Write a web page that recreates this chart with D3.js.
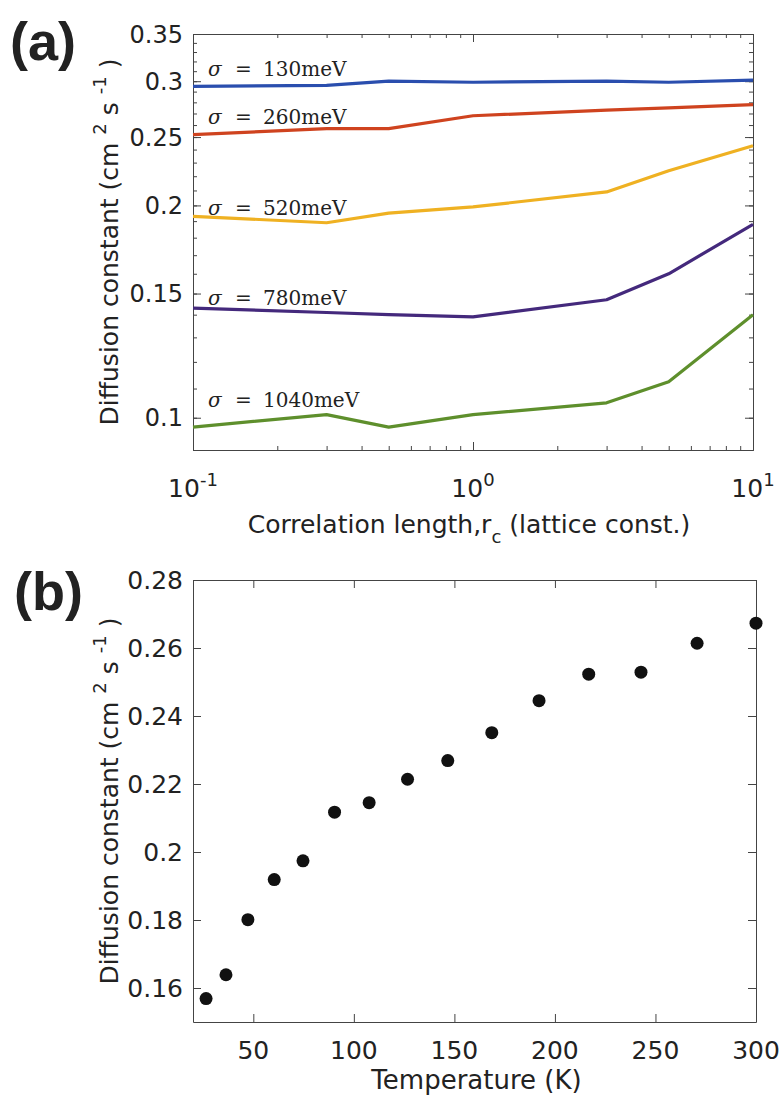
<!DOCTYPE html>
<html>
<head>
	<meta charset="utf-8">
	<title>diffusion-constant</title>
	<style type="text/css">
		body { margin: 0; background: #fff; }
		text { font-family: "DejaVu Sans", sans-serif; fill: #222; }
	</style>
</head>
<body>
<script src="https://cdn.jsdelivr.net/npm/d3@7"></script>
<script>
	// ---- data (a) ----
	var corrLen = [0.1, 0.3, 0.5, 1, 3, 5, 10];
	var sigmaNames = ["130meV", "260meV", "520meV", "780meV", "1040meV"];
	var d130  = [0.295, 0.296, 0.300, 0.299, 0.300, 0.299, 0.301];
	var d260  = [0.252, 0.257, 0.257, 0.268, 0.273, 0.275, 0.278];
	var d520  = [0.193, 0.189, 0.195, 0.199, 0.209, 0.224, 0.243];
	var d780  = [0.143, 0.141, 0.140, 0.139, 0.147, 0.160, 0.188];
	var d1040 = [0.097, 0.101, 0.097, 0.101, 0.105, 0.1125, 0.140];
	var labelAt = [0.305, 0.2605, 0.194, 0.1445, 0.1036];
	var colorsA = ["#2a4eae", "#cf431f", "#efb122", "#44297c", "#5e8f2c"];
	var yTicksA = [0.1, 0.15, 0.2, 0.25, 0.3, 0.35];
	var xExpA = [-1, 0, 1];

	// ---- data (b) ----
	var temps = [26.5, 36.4, 47.3, 60.4, 74.7, 90.4, 107.6, 126.7, 146.7, 168.6, 192.1, 216.8, 242.8, 270.7, 300];
	var diffB = [0.1569, 0.1639, 0.1801, 0.1919, 0.1974, 0.2117, 0.2145, 0.2214, 0.2269, 0.2351, 0.2445, 0.2523, 0.2529, 0.2614, 0.2673];
	var xTicksB = [50, 100, 150, 200, 250, 300];
	var yTicksB = [0.16, 0.18, 0.2, 0.22, 0.24, 0.26, 0.28];

	var W = 782, H = 1104;
	var svg = d3.select("body").append("svg").attr("width", W).attr("height", H);

	/*===== panel (a) =====*/
	var A = {l: 193, r: 753, t: 34, b: 450};
	var xA = d3.scaleLog().domain([0.1, 10]).range([A.l, A.r]);
	var yA = d3.scaleLog().domain([0.09, 0.35]).range([A.b, A.t]);

	var minorX = [];
	[0.1, 1].forEach(function(dec) { for (var k = 2; k <= 9; k++) minorX.push(dec * k); });
	var minorY = d3.range(9, 36).map(function(v) { return v / 100; });

	// box with inward ticks on all four sides
	function boxAxes(g, xs, ys, box, xMaj, xMin, yMaj, yMin) {
		var ax = function(gen, tr) {
			g.append("g").attr("transform", tr).call(gen)
				.call(function(s) {
					s.selectAll("text").remove();
					s.select(".domain").attr("stroke", "#444");
					s.selectAll("line").attr("stroke", "#444");
				});
		};
		ax(d3.axisBottom(xs).tickValues(xMaj).tickSizeInner(-8).tickSizeOuter(0), "translate(0," + box.b + ")");
		ax(d3.axisTop(xs).tickValues(xMaj).tickSizeInner(-8).tickSizeOuter(0), "translate(0," + box.t + ")");
		ax(d3.axisLeft(ys).tickValues(yMaj).tickSizeInner(-8).tickSizeOuter(0), "translate(" + box.l + ",0)");
		ax(d3.axisRight(ys).tickValues(yMaj).tickSizeInner(-8).tickSizeOuter(0), "translate(" + box.r + ",0)");
		if (xMin) {
			ax(d3.axisBottom(xs).tickValues(xMin).tickSizeInner(-4).tickSizeOuter(0), "translate(0," + box.b + ")");
			ax(d3.axisTop(xs).tickValues(xMin).tickSizeInner(-4).tickSizeOuter(0), "translate(0," + box.t + ")");
		}
		if (yMin) {
			ax(d3.axisLeft(ys).tickValues(yMin).tickSizeInner(-4).tickSizeOuter(0), "translate(" + box.l + ",0)");
			ax(d3.axisRight(ys).tickValues(yMin).tickSizeInner(-4).tickSizeOuter(0), "translate(" + box.r + ",0)");
		}
	}

	var gA = svg.append("g");
	boxAxes(gA, xA, yA, A, xExpA.map(function(e) { return Math.pow(10, e); }), minorX, yTicksA, minorY);

	// y tick labels
	gA.selectAll("text.yt").data(yTicksA).enter().append("text")
		.attr("x", A.l - 10).attr("y", function(d) { return yA(d); }).attr("dy", "0.36em")
		.attr("text-anchor", "end").attr("font-size", 24)
		.text(function(d) { return d3.format("")(d); });

	// x tick labels 10^n
	gA.selectAll("text.xt").data(xExpA).enter().append("text")
		.attr("x", function(d) { return xA(Math.pow(10, d)); }).attr("y", A.b + 47)
		.attr("text-anchor", "middle").attr("font-size", 25)
		.each(function(d) {
			var t = d3.select(this);
			t.append("tspan").text("10");
			t.append("tspan").attr("dy", -11).attr("font-size", 18).text(d);
		});

	var seriesA = [d130, d260, d520, d780, d1040];
	var line = d3.line().x(function(d, i) { return xA(corrLen[i]); }).y(function(d) { return yA(d); });
	gA.selectAll("path.s").data(seriesA).enter().append("path")
		.attr("fill", "none").attr("stroke-width", 3.2).attr("stroke-linejoin", "round")
		.attr("stroke", function(d, i) { return colorsA[i]; })
		.attr("d", line);

	// sigma labels
	sigmaNames.forEach(function(name, i) {
		var t = gA.append("text").attr("x", A.l + 15).attr("y", yA(labelAt[i]))
			.attr("font-size", 20).style("font-family", "'DejaVu Serif', serif");
		t.append("tspan").attr("font-style", "italic").text("σ");
		t.append("tspan").attr("x", A.l + 42).text("=");
		t.append("tspan").attr("x", A.l + 70).text(name);
	});

	function yLabel(g, cx, cy) {
		var t = g.append("text").attr("transform", "translate(" + cx + "," + cy + ") rotate(-90)")
			.attr("text-anchor", "middle").attr("font-size", 25);
		t.append("tspan").text("Diffusion constant (cm ");
		t.append("tspan").attr("dy", -12).attr("font-size", 18).text("2");
		t.append("tspan").attr("dy", 12).text(" s ");
		t.append("tspan").attr("dy", -12).attr("font-size", 18).text("-1");
		t.append("tspan").attr("dy", 12).text(" )");
	}
	yLabel(gA, 118, (A.t + A.b) / 2);

	var xl = gA.append("text").attr("x", (A.l + A.r) / 2 - 4).attr("y", A.b + 83)
		.attr("text-anchor", "middle").attr("font-size", 25);
	xl.append("tspan").text("Correlation length,r");
	xl.append("tspan").attr("dy", 10).attr("font-size", 18).text("c");
	xl.append("tspan").attr("dy", -10).text("  (lattice const.)");

	svg.append("text").attr("x", 10).attr("y", 60).attr("font-size", 54).attr("font-weight", "bold")
		.style("font-family", "'Liberation Sans', Arial, sans-serif").text("(a)");

	/*===== panel (b) =====*/
	var B = {l: 193, r: 756, t: 580, b: 1022};
	var xB = d3.scaleLinear().domain([20, 300]).range([B.l, B.r]);
	var yB = d3.scaleLinear().domain([0.15, 0.28]).range([B.b, B.t]);

	var gB = svg.append("g");
	boxAxes(gB, xB, yB, B, xTicksB, null, yTicksB, null);

	gB.selectAll("text.yt").data(yTicksB).enter().append("text")
		.attr("x", B.l - 10).attr("y", function(d) { return yB(d); }).attr("dy", "0.36em")
		.attr("text-anchor", "end").attr("font-size", 25)
		.text(function(d) { return d3.format("")(+d.toFixed(2)); });

	gB.selectAll("text.xt").data(xTicksB).enter().append("text")
		.attr("x", function(d) { return xB(d); }).attr("y", B.b + 37)
		.attr("text-anchor", "middle").attr("font-size", 25)
		.text(function(d) { return d; });

	gB.selectAll("circle").data(temps).enter().append("circle")
		.attr("cx", function(d) { return xB(d); })
		.attr("cy", function(d, i) { return yB(diffB[i]); })
		.attr("r", 6.5).attr("fill", "#111");

	yLabel(gB, 118, (B.t + B.b) / 2);

	gB.append("text").attr("x", (B.l + B.r) / 2 + 2).attr("y", B.b + 67)
		.attr("text-anchor", "middle").attr("font-size", 26).text("Temperature (K)");

	svg.append("text").attr("x", 14).attr("y", 610).attr("font-size", 54).attr("font-weight", "bold")
		.style("font-family", "'Liberation Sans', Arial, sans-serif").text("(b)");
</script>
</body>
</html>
